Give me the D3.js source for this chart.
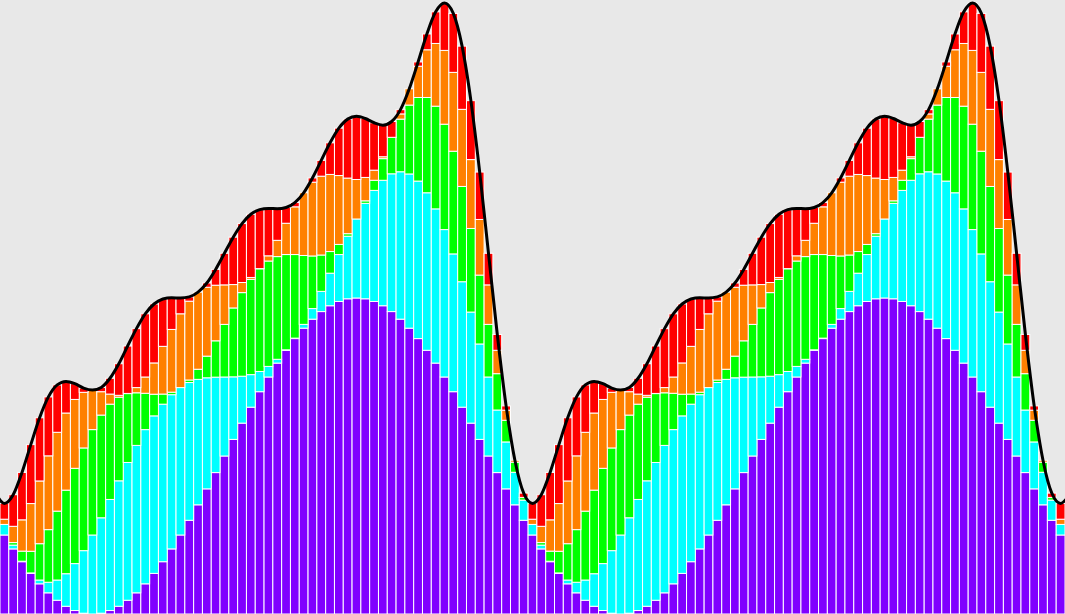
<!DOCTYPE html>
<html>
<head>
<meta charset="utf-8">
<script src="https://cdn.jsdelivr.net/npm/d3@7"></script>
<style>
  html, body { margin: 0; padding: 0; background: #e8e8e8; overflow: hidden; }
  svg { display: block; }
</style>
</head>
<body>
<svg id="chart" width="1065" height="614"></svg>
<script>
// ---- data, one value per bar, 121 bars ----
const purple = [
  50.0, 41.2, 33.1, 25.7, 19.1, 13.4, 8.7, 4.9, 2.2, 0.5,
  0.0, 0.5, 2.2, 4.9, 8.7, 13.4, 19.1, 25.7, 33.1, 41.2,
  50.0, 59.3, 69.1, 79.2, 89.5, 100.0, 110.5, 120.8, 130.9, 140.7,
  150.0, 158.8, 166.9, 174.3, 180.9, 186.6, 191.4, 195.1, 197.8, 199.5,
  200.0, 199.5, 197.8, 195.1, 191.4, 186.6, 180.9, 174.3, 166.9, 158.8,
  150.0, 140.7, 130.9, 120.8, 110.5, 100.0, 89.5, 79.2, 69.1, 59.3,
  50.0, 41.2, 33.1, 25.7, 19.1, 13.4, 8.7, 4.9, 2.2, 0.5,
  0.0, 0.5, 2.2, 4.9, 8.7, 13.4, 19.1, 25.7, 33.1, 41.2,
  50.0, 59.3, 69.1, 79.2, 89.5, 100.0, 110.5, 120.8, 130.9, 140.7,
  150.0, 158.8, 166.9, 174.3, 180.9, 186.6, 191.4, 195.1, 197.8, 199.5,
  200.0, 199.5, 197.8, 195.1, 191.4, 186.6, 180.9, 174.3, 166.9, 158.8,
  150.0, 140.7, 130.9, 120.8, 110.5, 100.0, 89.5, 79.2, 69.1, 59.3,
  50.0
];
const cyan = [
  6.7, 2.4, 0.3, 0.3, 2.4, 6.7, 12.8, 20.6, 29.7, 39.6,
  50.0, 60.4, 70.3, 79.4, 87.2, 93.3, 97.6, 99.7, 99.7, 97.6,
  93.3, 87.2, 79.4, 70.3, 60.4, 50.0, 39.6, 29.7, 20.6, 12.8,
  6.7, 2.4, 0.3, 0.3, 2.4, 6.7, 12.8, 20.6, 29.7, 39.6,
  50.0, 60.4, 70.3, 79.4, 87.2, 93.3, 97.6, 99.7, 99.7, 97.6,
  93.3, 87.2, 79.4, 70.3, 60.4, 50.0, 39.6, 29.7, 20.6, 12.8,
  6.7, 2.4, 0.3, 0.3, 2.4, 6.7, 12.8, 20.6, 29.7, 39.6,
  50.0, 60.4, 70.3, 79.4, 87.2, 93.3, 97.6, 99.7, 99.7, 97.6,
  93.3, 87.2, 79.4, 70.3, 60.4, 50.0, 39.6, 29.7, 20.6, 12.8,
  6.7, 2.4, 0.3, 0.3, 2.4, 6.7, 12.8, 20.6, 29.7, 39.6,
  50.0, 60.4, 70.3, 79.4, 87.2, 93.3, 97.6, 99.7, 99.7, 97.6,
  93.3, 87.2, 79.4, 70.3, 60.4, 50.0, 39.6, 29.7, 20.6, 12.8,
  6.7
];
const green = [
  0.0, 1.6, 6.4, 13.7, 23.0, 33.3, 43.6, 52.9, 60.3, 65.0,
  66.7, 65.0, 60.3, 52.9, 43.6, 33.3, 23.0, 13.7, 6.4, 1.6,
  0.0, 1.6, 6.4, 13.7, 23.0, 33.3, 43.6, 52.9, 60.3, 65.0,
  66.7, 65.0, 60.3, 52.9, 43.6, 33.3, 23.0, 13.7, 6.4, 1.6,
  0.0, 1.6, 6.4, 13.7, 23.0, 33.3, 43.6, 52.9, 60.3, 65.0,
  66.7, 65.0, 60.3, 52.9, 43.6, 33.3, 23.0, 13.7, 6.4, 1.6,
  0.0, 1.6, 6.4, 13.7, 23.0, 33.3, 43.6, 52.9, 60.3, 65.0,
  66.7, 65.0, 60.3, 52.9, 43.6, 33.3, 23.0, 13.7, 6.4, 1.6,
  0.0, 1.6, 6.4, 13.7, 23.0, 33.3, 43.6, 52.9, 60.3, 65.0,
  66.7, 65.0, 60.3, 52.9, 43.6, 33.3, 23.0, 13.7, 6.4, 1.6,
  0.0, 1.6, 6.4, 13.7, 23.0, 33.3, 43.6, 52.9, 60.3, 65.0,
  66.7, 65.0, 60.3, 52.9, 43.6, 33.3, 23.0, 13.7, 6.4, 1.6,
  0.0
];
const orange = [
  3.3, 10.3, 19.8, 30.2, 39.7, 46.7, 49.9, 48.8, 43.6, 35.2, 25.0, 14.8, 6.4, 1.2, 0.1,
  3.3, 10.3, 19.8, 30.2, 39.7, 46.7, 49.9, 48.8, 43.6, 35.2, 25.0, 14.8, 6.4, 1.2, 0.1,
  3.3, 10.3, 19.8, 30.2, 39.7, 46.7, 49.9, 48.8, 43.6, 35.2, 25.0, 14.8, 6.4, 1.2, 0.1,
  3.3, 10.3, 19.8, 30.2, 39.7, 46.7, 49.9, 48.8, 43.6, 35.2, 25.0, 14.8, 6.4, 1.2, 0.1,
  3.3, 10.3, 19.8, 30.2, 39.7, 46.7, 49.9, 48.8, 43.6, 35.2, 25.0, 14.8, 6.4, 1.2, 0.1,
  3.3, 10.3, 19.8, 30.2, 39.7, 46.7, 49.9, 48.8, 43.6, 35.2, 25.0, 14.8, 6.4, 1.2, 0.1,
  3.3, 10.3, 19.8, 30.2, 39.7, 46.7, 49.9, 48.8, 43.6, 35.2, 25.0, 14.8, 6.4, 1.2, 0.1,
  3.3, 10.3, 19.8, 30.2, 39.7, 46.7, 49.9, 48.8, 43.6, 35.2, 25.0, 14.8, 6.4, 1.2, 0.1,
  3.3
];
const red = [
  10.0, 20.0, 30.0, 37.3, 40.0, 37.3, 30.0, 20.0, 10.0, 2.7, 0.0, 2.7,
  10.0, 20.0, 30.0, 37.3, 40.0, 37.3, 30.0, 20.0, 10.0, 2.7, 0.0, 2.7,
  10.0, 20.0, 30.0, 37.3, 40.0, 37.3, 30.0, 20.0, 10.0, 2.7, 0.0, 2.7,
  10.0, 20.0, 30.0, 37.3, 40.0, 37.3, 30.0, 20.0, 10.0, 2.7, 0.0, 2.7,
  10.0, 20.0, 30.0, 37.3, 40.0, 37.3, 30.0, 20.0, 10.0, 2.7, 0.0, 2.7,
  10.0, 20.0, 30.0, 37.3, 40.0, 37.3, 30.0, 20.0, 10.0, 2.7, 0.0, 2.7,
  10.0, 20.0, 30.0, 37.3, 40.0, 37.3, 30.0, 20.0, 10.0, 2.7, 0.0, 2.7,
  10.0, 20.0, 30.0, 37.3, 40.0, 37.3, 30.0, 20.0, 10.0, 2.7, 0.0, 2.7,
  10.0, 20.0, 30.0, 37.3, 40.0, 37.3, 30.0, 20.0, 10.0, 2.7, 0.0, 2.7,
  10.0, 20.0, 30.0, 37.3, 40.0, 37.3, 30.0, 20.0, 10.0, 2.7, 0.0, 2.7,
  10.0
];
// totals of the curve just outside the left and right edges
const lineEdges = [76.5, 75.5];

const seriesNames = ["purple", "cyan", "green", "orange", "red"];
const seriesColors = ["#8000ff", "#00ffff", "#00ff00", "#ff8000", "#ff0000"];

// ---- build table for d3.stack ----
const seriesArrays = [purple, cyan, green, orange, red];
const rows = purple.map((_, i) => {
  const r = { i };
  seriesNames.forEach((k, j) => { r[k] = seriesArrays[j][i]; });
  return r;
});
const stacked = d3.stack().keys(seriesNames)(rows);
const totals = rows.map(r => seriesNames.reduce((s, k) => s + r[k], 0));

const W = 1065, H = 614;
const svg = d3.select("#chart");
svg.append("rect").attr("width", W).attr("height", H).attr("fill", "#e8e8e8");

const x = d3.scaleBand().domain(d3.range(rows.length)).range([0, W]).padding(0);
const y = d3.scaleLinear().domain([0, d3.max(totals)]).range([H, 3]);

svg.append("g")
  .selectAll("g")
  .data(stacked)
  .join("g")
  .attr("fill", (d, j) => seriesColors[j])
  .selectAll("rect")
  .data(d => d)
  .join("rect")
  .attr("x", (d, i) => x(i))
  .attr("width", x.bandwidth())
  .attr("y", d => y(d[1]))
  .attr("height", d => Math.max(0, y(d[0]) - y(d[1])))
  .attr("stroke", "#ffffff")
  .attr("stroke-width", 1);

// ---- total line through bar centres ----
const n = totals.length;
const linePts = [{ i: -1, v: lineEdges[0] }]
  .concat(totals.map((v, i) => ({ i, v })))
  .concat([{ i: n, v: lineEdges[1] }]);
const xc = d3.scaleLinear().domain([-0.5, n - 0.5]).range([0, W]);

svg.append("path")
  .datum(linePts)
  .attr("fill", "none")
  .attr("stroke", "#000")
  .attr("stroke-width", 3)
  .attr("stroke-linejoin", "round")
  .attr("d", d3.line().x(d => xc(d.i)).y(d => y(d.v)).curve(d3.curveMonotoneX));
</script>
</body>
</html>
